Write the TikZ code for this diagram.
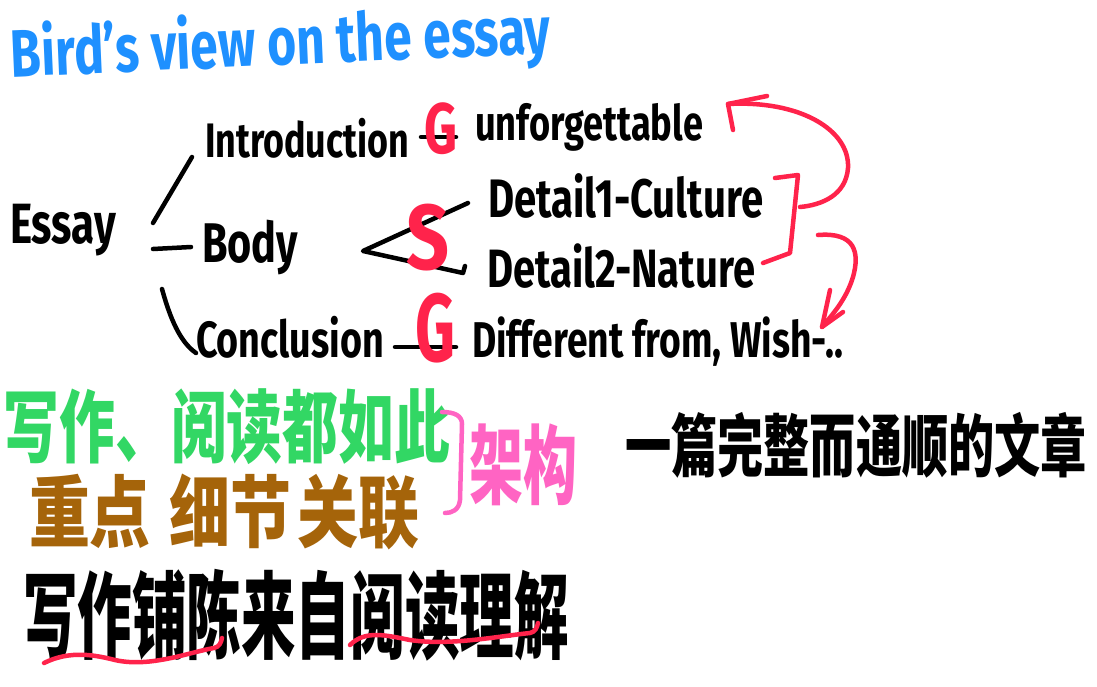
\documentclass[tikz,border=0pt]{standalone}
\usepackage{fontspec}
\setmainfont{Fira Sans}
\newfontfamily\cjk{Noto Sans CJK SC}
\usepackage{graphicx}
\usetikzlibrary{calc}
\definecolor{ttlblue}{RGB}{30,144,255}
\definecolor{penred}{RGB}{255,35,75}
\definecolor{pengreen}{RGB}{50,215,100}
\definecolor{penbrown}{RGB}{165,100,10}
\definecolor{penpink}{RGB}{255,100,195}
\newcommand\hwtext[3][1.35]{\resizebox{#2}{!}{\scalebox{1}[#1]{#3}}}
\tikzset{
  txt/.style={inner sep=0pt, outer sep=0pt},
  lat/.style={txt, anchor=base west, font=\bfseries},
  han/.style={txt, anchor=center, font=\cjk\bfseries},
  pen/.style={line width=4.5pt, line cap=round, line join=round},
  redpen/.style={pen, draw=penred},
  pinkpen/.style={pen, draw=penpink},
}
\begin{document}
\begin{tikzpicture}[x=1pt,y=-1pt]
\useasboundingbox[fill=white] (0,0) rectangle (1097,686);

% title
\node[lat, text=ttlblue, rotate=2.5] (title) at (12,77) {\hwtext[1.35]{540pt}{Bird's view on the essay}};

% tree
\node[lat] (essay) at (10,243) {\hwtext{106pt}{Essay}};
\node[lat] (intro) at (205,157) {\hwtext{204pt}{Introduction}};
\node[lat] (body) at (202,262) {\hwtext{96pt}{Body}};
\node[lat] (concl) at (196,357) {\hwtext{188pt}{Conclusion}};
\node[lat] (unf) at (475,140) {\hwtext{228pt}{unforgettable}};
\node[lat] (det1) at (488,217) {\hwtext{275pt}{Detail1-Culture}};
\node[lat] (det2) at (487,287) {\hwtext{268pt}{Detail2-Nature}};
\node[lat] (diff) at (472,357) {\hwtext{371pt}{Different from, Wish-..}};

% connectors of the tree
\coordinate (a1) at (192,157); \coordinate (a2) at (153,223);
\coordinate (b1) at (153,249); \coordinate (b2) at (191,247);
\coordinate (c1) at (162,289); \coordinate (c2) at (196,353);
\draw[pen] (a1) -- (a2);
\draw[pen] (b1) -- (b2);
\draw[pen] (c1) .. controls (170,318) and (180,342) .. (c2);
\coordinate (d1) at (421,137); \coordinate (d2) at (456,137);
\draw[pen] (d1) -- (d2);
\coordinate (e1) at (395,347); \coordinate (e2) at (456,347);
\draw[pen] (e1) -- (e2);
\coordinate (lt) at (363,251); \coordinate (lu) at (468,203); \coordinate (ll) at (463,273);
\draw[pen] (lu) -- (lt) -- (ll) -- ++(2,-7);

% red G S G
\node[txt, anchor=center, text=penred, font=\bfseries] (g1) at (441,129) {\resizebox*{33pt}{52pt}{G}};
\node[txt, anchor=center, text=penred, font=\bfseries] (s1) at (428,238) {\resizebox*{43pt}{67pt}{S}};
\node[txt, anchor=center, text=penred, font=\bfseries] (g2) at (435,328) {\resizebox*{40pt}{70pt}{G}};

% red links
\coordinate (h0) at (733,130); \coordinate (h1) at (728,104); \coordinate (h2) at (767,96);
\coordinate (h3) at (800,207);
\draw[redpen] (h0) -- (h1) -- (h2);
\draw[redpen] (h1) .. controls (800,100) and (850,130) .. (848,168) .. controls (846,195) and (822,205) .. (h3);
\coordinate (k1) at (775,178); \coordinate (k2) at (798,175); \coordinate (k3) at (790,253); \coordinate (k4) at (763,263);
\draw[redpen] (k1) -- (k2) -- (k3) -- (k4);
\coordinate (m1) at (818,235); \coordinate (m2) at (822,327);
\draw[redpen] (m1) .. controls (855,232) and (860,252) .. (853,277) .. controls (846,300) and (832,315) .. (m2);
\draw[redpen] (830,290) -- (m2) -- (843,312);

% Chinese notes
\node[han, text=pengreen] (n1) at (227,427) {\resizebox*{446pt}{76pt}{写作、阅读都如此}};
\node[han, text=penbrown] (n2) at (224,512) {\resizebox*{390pt}{76pt}{重点\hspace{.3em}细节\hspace{.1em}关联}};
\coordinate (p1) at (442,412); \coordinate (p2) at (445,513);
\draw[pinkpen] (p1) .. controls (455,412) and (462,416) .. (462,424) -- (460,500) .. controls (459,510) and (452,513) .. (p2);
\node[han, text=penpink] (n3) at (523,465) {\resizebox*{108pt}{82pt}{架构}};
\node[han] (n4) at (856,445) {\resizebox*{462pt}{66pt}{一篇完整而通顺的文章}};
\node[han] (n5) at (296,615) {\resizebox*{546pt}{92pt}{写作铺陈来自阅读理解}};

% red underlines
\coordinate (u1) at (44,663); \coordinate (u2) at (222,638);
\draw[redpen] (u1) .. controls (70,650) and (95,655) .. (115,660) .. controls (150,668) and (190,652) .. (214,648) .. controls (219,647) and (221,643) .. (u2);
\coordinate (v1) at (350,645); \coordinate (v2) at (538,623);
\draw[redpen] (v1) .. controls (365,630) and (385,635) .. (410,640) .. controls (450,646) and (500,636) .. (530,633) .. controls (535,632) and (537,628) .. (v2);
\end{tikzpicture}
\end{document}
